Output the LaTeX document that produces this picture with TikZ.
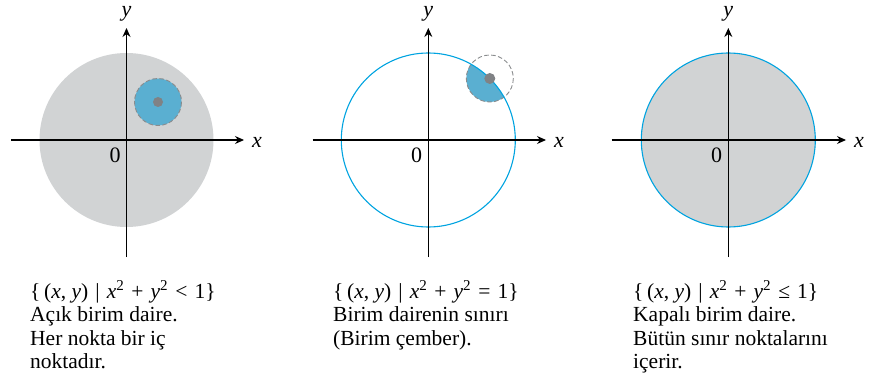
\documentclass[tikz,border=0pt]{standalone}
\usepackage{fontspec}
\setmainfont{Liberation Serif}
\usetikzlibrary{arrows.meta}
\definecolor{diskgray}{HTML}{D1D3D4}
\definecolor{nbhdblue}{HTML}{5AAFD1}
\definecolor{rimcyan}{HTML}{00A3E0}
\definecolor{dotgray}{HTML}{808285}
\definecolor{dashgray}{HTML}{8A8C8E}
\tikzset{
  axis/.style={line width=1.1pt, -{Stealth[length=9pt,width=8pt,inset=3pt]}},
  axlabel/.style={font=\fontsize{22}{24}\selectfont\itshape, inner sep=0pt},
  zerolabel/.style={font=\fontsize{22}{24}\selectfont, inner sep=0pt},
  caption/.style={font=\fontsize{21.5}{23.6}\selectfont, align=left, anchor=base west, inner sep=0pt},
  rim/.style={draw=rimcyan, line width=1.1pt},
  dashring/.style={draw=dashgray, line width=0.9pt, dash pattern=on 4.5pt off 2.5pt},
  centerdot/.style={fill=dotgray}
}
\newcommand{\ax}[1]{\textit{#1}}
\newcommand{\opgap}{\hspace{0.33em}}
\newcommand{\setexpr}[1]{\{\,(\ax{x}, \ax{y})\opgap|\opgap\ax{x}\textsuperscript{2}\opgap+\opgap\ax{y}\textsuperscript{2}\opgap#1\opgap1\}}
\begin{document}
\begin{tikzpicture}[x=1pt,y=-1pt]
\useasboundingbox (0,0) rectangle (872,382);
% ---------- panel 1 ----------
\coordinate (o1) at (126.5,140);
\fill[diskgray] (o1) circle (87);
\fill[nbhdblue] (158,102) circle (23.5);
\draw[dashring] (158,102) circle (23.5);
\fill[centerdot] (158,102) circle (5);
\coordinate (xa1) at (11,140);
\coordinate (xb1) at (244,140);
\coordinate (ya1) at (126.5,257);
\coordinate (yb1) at (126.5,28);
\draw[axis] (xa1) -- (xb1);
\draw[axis] (ya1) -- (yb1);
\node[axlabel] (xl1) at (257,142) {x};
\node[axlabel] (yl1) at (126.5,14) {y};
\node[zerolabel] (z1) at (115,155) {0};
\node[caption] (c1) at (30,368.8) {\setexpr{<}\\Açık birim daire.\\Her nokta bir iç\\noktadır.};
% ---------- panel 2 ----------
\coordinate (o2) at (428.3,140);
\begin{scope}
\clip (o2) circle (87);
\fill[nbhdblue] (489.8,78.5) circle (23.5);
\end{scope}
\draw[dashring] (489.8,78.5) circle (23.5);
\draw[rim] (o2) circle (87);
\fill[centerdot] (489.8,78.5) circle (5.5);
\coordinate (xa2) at (312.5,140);
\coordinate (xb2) at (546,140);
\coordinate (ya2) at (428.3,257);
\coordinate (yb2) at (428.3,28);
\draw[axis] (xa2) -- (xb2);
\draw[axis] (ya2) -- (yb2);
\node[axlabel] (xl2) at (559,142) {x};
\node[axlabel] (yl2) at (428.3,14) {y};
\node[zerolabel] (z2) at (416.5,155) {0};
\node[caption] (c2) at (333,345.2) {\setexpr{=}\\Birim dairenin sınırı\\(Birim çember).};
% ---------- panel 3 ----------
\coordinate (o3) at (728.3,140);
\fill[diskgray] (o3) circle (87);
\draw[rim] (o3) circle (87);
\coordinate (xa3) at (611.5,140);
\coordinate (xb3) at (846,140);
\coordinate (ya3) at (728.3,257);
\coordinate (yb3) at (728.3,28);
\draw[axis] (xa3) -- (xb3);
\draw[axis] (ya3) -- (yb3);
\node[axlabel] (xl3) at (859,142) {x};
\node[axlabel] (yl3) at (728.3,14) {y};
\node[zerolabel] (z3) at (716.5,155) {0};
\node[caption] (c3) at (633,368.8) {\setexpr{≤}\\Kapalı birim daire.\\Bütün sınır noktalarını\\içerir.};
\end{tikzpicture}
\end{document}
